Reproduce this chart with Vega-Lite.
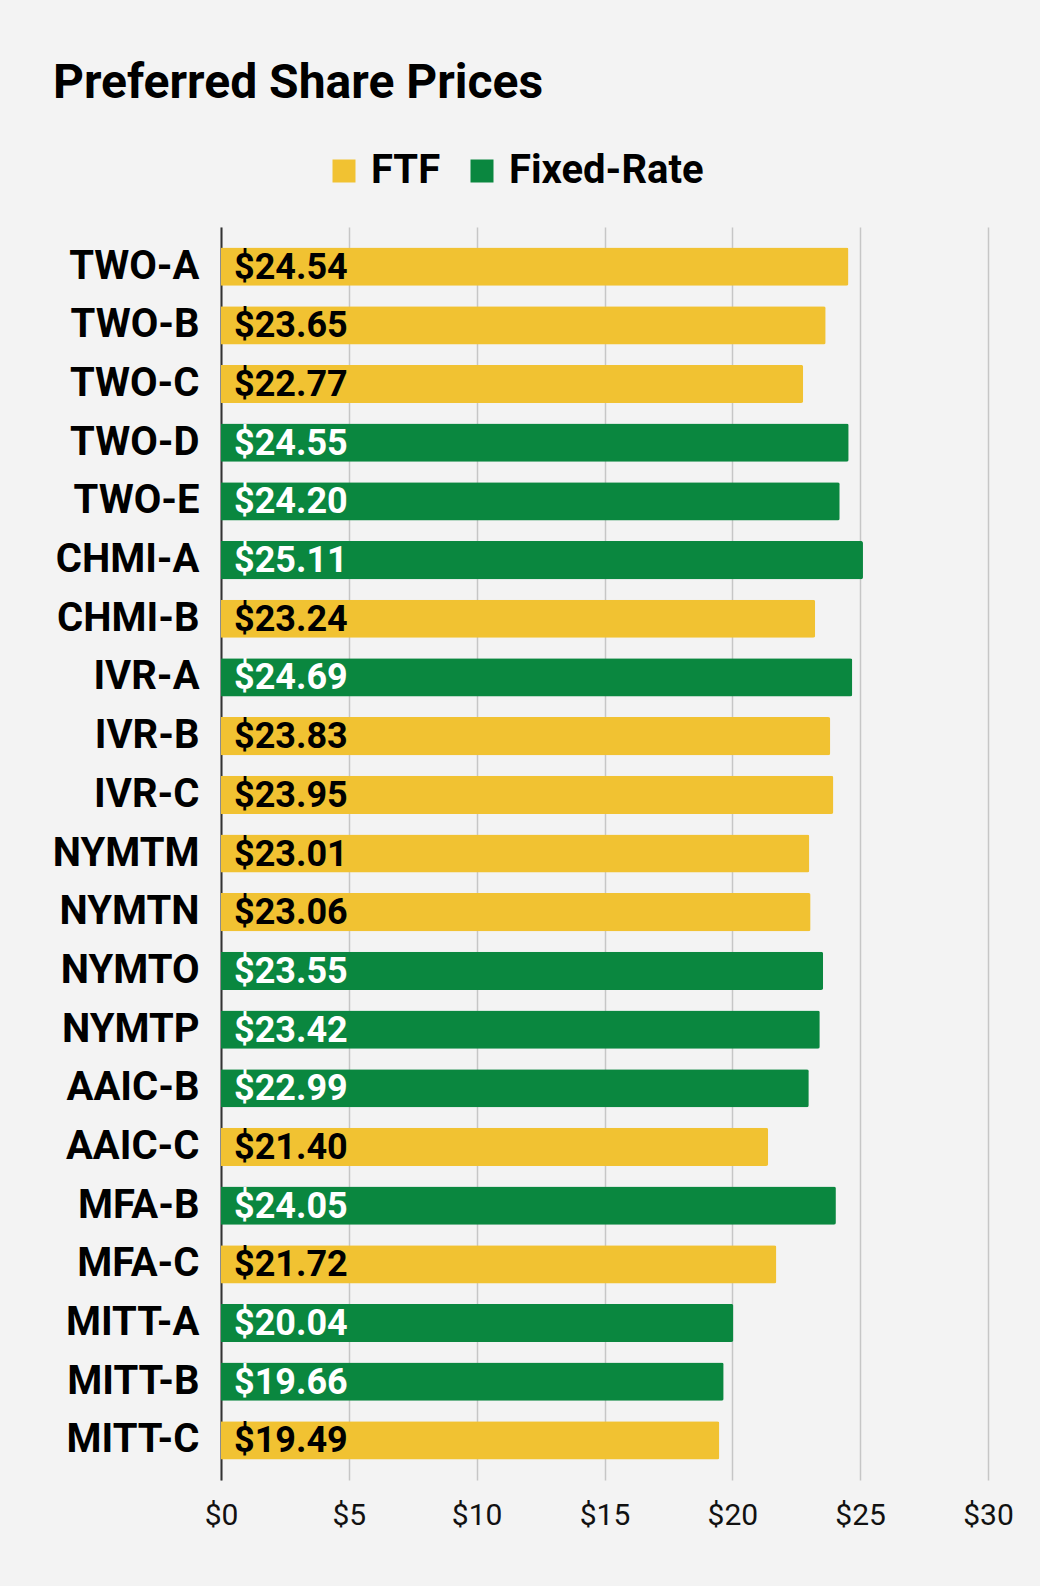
{
  "$schema": "https://vega.github.io/schema/vega-lite/v6.json",
  "width": 767,
  "height": 1253,
  "autosize": {"type": "none"},
  "padding": {"left": 221, "top": 227, "right": 52, "bottom": 106},
  "background": "#f3f3f3",
  "title": {
    "text": "Preferred Share Prices",
    "anchor": "start",
    "frame": "group",
    "dx": -168,
    "offset": 5,
    "fontSize": 48,
    "fontWeight": "bold",
    "font": "Roboto",
    "color": "#000000",
    "baseline": "alphabetic"
  },
  "data": {
    "values": [
      {"ticker": "TWO-A", "price": 24.54, "type": "FTF"},
      {"ticker": "TWO-B", "price": 23.65, "type": "FTF"},
      {"ticker": "TWO-C", "price": 22.77, "type": "FTF"},
      {"ticker": "TWO-D", "price": 24.55, "type": "Fixed-Rate"},
      {"ticker": "TWO-E", "price": 24.20, "type": "Fixed-Rate"},
      {"ticker": "CHMI-A", "price": 25.11, "type": "Fixed-Rate"},
      {"ticker": "CHMI-B", "price": 23.24, "type": "FTF"},
      {"ticker": "IVR-A", "price": 24.69, "type": "Fixed-Rate"},
      {"ticker": "IVR-B", "price": 23.83, "type": "FTF"},
      {"ticker": "IVR-C", "price": 23.95, "type": "FTF"},
      {"ticker": "NYMTM", "price": 23.01, "type": "FTF"},
      {"ticker": "NYMTN", "price": 23.06, "type": "FTF"},
      {"ticker": "NYMTO", "price": 23.55, "type": "Fixed-Rate"},
      {"ticker": "NYMTP", "price": 23.42, "type": "Fixed-Rate"},
      {"ticker": "AAIC-B", "price": 22.99, "type": "Fixed-Rate"},
      {"ticker": "AAIC-C", "price": 21.40, "type": "FTF"},
      {"ticker": "MFA-B", "price": 24.05, "type": "Fixed-Rate"},
      {"ticker": "MFA-C", "price": 21.72, "type": "FTF"},
      {"ticker": "MITT-A", "price": 20.04, "type": "Fixed-Rate"},
      {"ticker": "MITT-B", "price": 19.66, "type": "Fixed-Rate"},
      {"ticker": "MITT-C", "price": 19.49, "type": "FTF"}
    ]
  },
  "encoding": {
    "y": {
      "field": "ticker",
      "type": "nominal",
      "sort": null,
      "title": null,
      "scale": {"paddingInner": 0.35, "paddingOuter": 0.35},
      "axis": {
        "domain": true,
        "domainColor": "#333333",
        "domainWidth": 2,
        "ticks": false,
        "labelFont": "Roboto",
        "labelFontSize": 40,
        "labelFontWeight": "bold",
        "labelColor": "#000000",
        "labelPadding": 22
      }
    }
  },
  "layer": [
    {
      "mark": {"type": "bar", "cornerRadiusEnd": 2},
      "encoding": {
        "x": {
          "field": "price",
          "type": "quantitative",
          "title": null,
          "scale": {"domain": [0, 30], "nice": false},
          "axis": {
            "values": [0, 5, 10, 15, 20, 25, 30],
            "labelExpr": "'$' + datum.value",
            "labelFlush": false,
            "domain": false,
            "ticks": false,
            "grid": true,
            "gridColor": "#c6c6c6",
            "gridWidth": 1.5,
            "labelFont": "Roboto",
            "labelFontSize": 30,
            "labelColor": "#111111",
            "labelPadding": 20
          }
        },
        "color": {
          "field": "type",
          "type": "nominal",
          "scale": {"domain": ["FTF", "Fixed-Rate"], "range": ["#f1c232", "#0a873f"]},
          "legend": {
            "title": null,
            "orient": "none",
            "direction": "horizontal",
            "legendX": 103,
            "legendY": -76,
            "symbolType": "square",
            "symbolSize": 529,
            "symbolStrokeWidth": 0,
            "symbolOpacity": 1,
            "labelFont": "Roboto",
            "labelFontSize": 40,
            "labelFontWeight": "bold",
            "labelColor": "#000000",
            "labelLimit": 400,
            "labelOffset": 7,
            "columnPadding": 21
          }
        }
      }
    },
    {
      "mark": {"type": "text", "align": "left", "baseline": "middle", "dx": 13, "dy": 1, "font": "Roboto", "fontSize": 36, "fontWeight": "bold"},
      "encoding": {
        "x": {"datum": 0, "type": "quantitative"},
        "text": {"field": "price", "type": "quantitative", "format": "$.2f"},
        "color": {
          "condition": {"test": "datum.type === 'FTF'", "value": "#000000"},
          "value": "#ffffff"
        }
      }
    }
  ],
  "config": {
    "view": {"stroke": null}
  }
}
